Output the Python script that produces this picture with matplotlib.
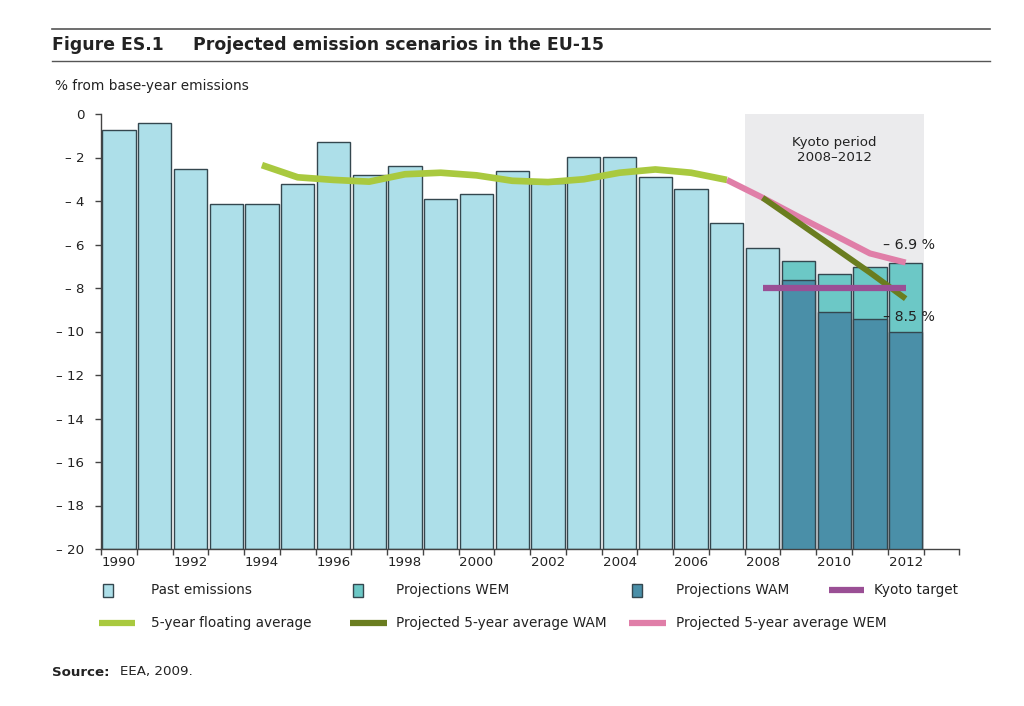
import matplotlib
matplotlib.use("Agg")
import matplotlib.pyplot as plt
from matplotlib.patches import Rectangle
from matplotlib.lines import Line2D
import numpy as np

# ---- data ----
years_past = list(range(1990, 2009))
past_values = [-0.74, -0.43, -2.54, -4.15, -4.15, -3.2, -1.3, -2.79, -2.41, -3.92,
               -3.69, -2.62, -3.17, -1.99, -1.99, -2.9, -3.46, -5.01, -6.18]
years_proj = [2009, 2010, 2011, 2012]
wem_values = [-6.77, -7.36, -7.05, -6.85]
wam_values = [-7.65, -9.10, -9.43, -10.04]

years_avg = list(range(1994, 2008))
avg_values = [-2.35, -2.91, -3.03, -3.11, -2.77, -2.70, -2.82, -3.07, -3.13, -3.00,
              -2.70, -2.55, -2.70, -3.03]
years_wem_avg = [2007, 2008, 2009, 2010, 2011, 2012]
wem_avg_values = [-3.03, -3.85, -4.72, -5.56, -6.41, -6.83]
years_wam_avg = [2008, 2009, 2010, 2011, 2012]
wam_avg_values = [-3.85, -4.99, -6.14, -7.29, -8.49]

kyoto_years = [2008, 2012]
kyoto_target = -8.0
kyoto_period = (2007.5, 2012.5)

yticks = list(range(0, -21, -2))
ytick_labels = ["0"] + ["\u2013 %d" % abs(v) for v in yticks[1:]]
xtick_years = list(range(1990, 2013, 2))

# ---- style ----
c_past = "#addfe9"
c_wem = "#6cc8c6"
c_wam = "#4a8fa8"
c_edge = "#34474f"
c_avg = "#a9c93f"
c_wamavg = "#6a7d1f"
c_wemavg = "#e07ea8"
c_kyoto = "#9a4f95"
c_shade = "#ebebed"
c_text = "#222222"

plt.rcParams["font.family"] = ["DejaVu Sans"]

W, H = 1024, 706
fig = plt.figure(figsize=(W / 100, H / 100), dpi=100)

def fx(px):
    return px / W

def fy(py):
    return 1 - py / H

ax = fig.add_axes([fx(101), fy(549), fx(959.3) - fx(101), fy(114) - fy(549)])
ax.set_xlim(1989.5, 2013.5)
ax.set_ylim(-20, 0)

bottom = -20
bw = 0.93
# Kyoto period shading
ax.axvspan(kyoto_period[0], kyoto_period[1], color=c_shade, zorder=0, lw=0)

ax.bar(years_past, np.array(past_values) - bottom, bottom=bottom, width=bw,
       color=c_past, edgecolor=c_edge, linewidth=1.0, zorder=2)
ax.bar(years_proj, np.array(wem_values) - bottom, bottom=bottom, width=bw,
       color=c_wem, edgecolor=c_edge, linewidth=1.0, zorder=2)
ax.bar(years_proj, np.array(wam_values) - bottom, bottom=bottom, width=bw,
       color=c_wam, edgecolor=c_edge, linewidth=1.0, zorder=3)

ax.plot(years_wem_avg, wem_avg_values, color=c_wemavg, lw=4.4, zorder=5,
        solid_capstyle="butt", solid_joinstyle="round")
ax.plot(years_avg, avg_values, color=c_avg, lw=4.8, zorder=5,
        solid_capstyle="butt", solid_joinstyle="round")
ax.plot(years_wam_avg, wam_avg_values, color=c_wamavg, lw=4.2, zorder=6,
        solid_capstyle="butt", solid_joinstyle="round")
ax.plot(kyoto_years, [kyoto_target, kyoto_target], color=c_kyoto, lw=4.5,
        zorder=6, solid_capstyle="butt")

ax.text(2011.37, -6.02, "\u2013 6.9 %", fontsize=10.2, color=c_text, va="center",
        ha="left", zorder=7)
ax.text(2011.37, -9.33, "\u2013 8.5 %", fontsize=10.2, color=c_text, va="center",
        ha="left", zorder=7)
ax.text(2010.0, -1.65, "Kyoto period\n2008\u20132012", fontsize=9.6, color=c_text,
        ha="center", va="center", linespacing=1.15, zorder=7)

# axes styling
for s in ["top", "right"]:
    ax.spines[s].set_visible(False)
for s in ["left", "bottom"]:
    ax.spines[s].set_color("#444444")
    ax.spines[s].set_linewidth(1.0)
ax.set_yticks(yticks)
ax.set_yticklabels(ytick_labels)
ax.tick_params(axis="y", length=4, width=1, color="#444444", pad=8,
               labelsize=9.6, labelcolor=c_text)
ax.set_xticks(np.arange(1989.5, 2014, 1))
ax.set_xticklabels([])
ax.tick_params(axis="x", which="major", length=4, width=1, color="#444444")
ax.set_xticks(xtick_years, minor=True)
ax.set_xticklabels([str(y) for y in xtick_years], minor=True)
ax.tick_params(axis="x", which="minor", length=0, pad=5, labelsize=9.6,
               labelcolor=c_text)

# ---- header ----
fig.add_artist(Line2D([fx(52), fx(990)], [fy(29), fy(29)], color="#555555", lw=1.2))
fig.add_artist(Line2D([fx(52), fx(990)], [fy(61), fy(61)], color="#555555", lw=1.0))
fig.text(fx(52), fy(45), "Figure ES.1", fontsize=12.4, fontweight="bold",
         color=c_text, va="center", ha="left")
fig.text(fx(193), fy(45), "Projected emission scenarios in the EU-15", fontsize=12.4,
         fontweight="bold", color=c_text, va="center", ha="left")
fig.text(fx(55), fy(86), "% from base-year emissions", fontsize=9.8, color=c_text,
         va="center", ha="left")

# ---- legend (manual) ----
def patch(cx, cy, color):
    w, h = 10, 13
    fig.add_artist(Rectangle((fx(cx - w / 2), fy(cy + h / 2)), fx(w), h / H,
                             facecolor=color, edgecolor=c_edge, lw=1.0,
                             transform=fig.transFigure))

def legline(x0, x1, cy, color, lw):
    fig.add_artist(Line2D([fx(x0), fx(x1)], [fy(cy), fy(cy)], color=color, lw=lw,
                          solid_capstyle="butt"))

fs_leg = 9.8
r1, r2 = 590, 623
patch(108, r1, c_past)
fig.text(fx(151), fy(r1), "Past emissions", fontsize=fs_leg, color=c_text, va="center")
patch(358, r1, c_wem)
fig.text(fx(396), fy(r1), "Projections WEM", fontsize=fs_leg, color=c_text, va="center")
patch(637, r1, c_wam)
fig.text(fx(676), fy(r1), "Projections WAM", fontsize=fs_leg, color=c_text, va="center")
legline(829, 864, r1, c_kyoto, 4.5)
fig.text(fx(874), fy(r1), "Kyoto target", fontsize=fs_leg, color=c_text, va="center")

legline(99, 135, r2, c_avg, 4.5)
fig.text(fx(151), fy(r2), "5-year floating average", fontsize=fs_leg, color=c_text,
         va="center")
legline(350, 387, r2, c_wamavg, 4.5)
fig.text(fx(396), fy(r2), "Projected 5-year average WAM", fontsize=fs_leg, color=c_text,
         va="center")
legline(629, 666, r2, c_wemavg, 4.5)
fig.text(fx(676), fy(r2), "Projected 5-year average WEM", fontsize=fs_leg, color=c_text,
         va="center")

# ---- source ----
fig.text(fx(52), fy(672), "Source:", fontsize=9.6, fontweight="bold", color=c_text,
         va="center")
fig.text(fx(120), fy(672), "EEA, 2009.", fontsize=9.6, color=c_text, va="center")

fig.savefig("out.png", dpi=100, facecolor="white")
